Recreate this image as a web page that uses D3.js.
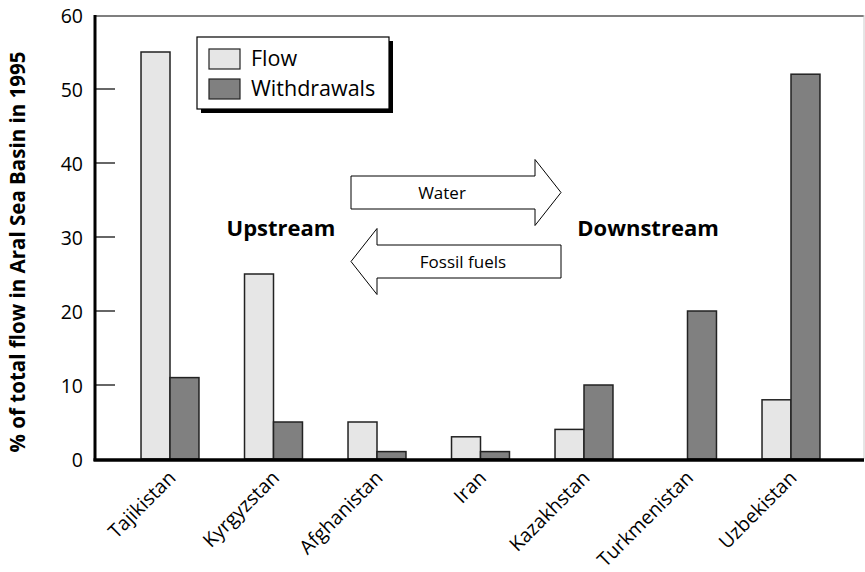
<!DOCTYPE html>
<html><head><meta charset="utf-8">
<script src="https://cdn.jsdelivr.net/npm/d3@7"></script>
<style>body{margin:0;background:#fff}svg{display:block;font-family:"Open Sans",sans-serif}</style>
</head><body><svg id="c" width="865" height="572"></svg>
<script>
const countries = ["Tajikistan","Kyrgyzstan","Afghanistan","Iran","Kazakhstan","Turkmenistan","Uzbekistan"];
const flow = [55,25,5,3,4,0,8];
const withdrawals = [11,5,1,1,10,20,52];
const seriesNames = ["Flow","Withdrawals"];
const seriesColors = ["#e6e6e6","#808080"];
const yTicks = [0,10,20,30,40,50,60];

(function(){
const svg = d3.select("#c");
const mLeft = 95, mRight = 864, mTop = 15, mBottom = 459;

const y = d3.scaleLinear().domain([0,60]).range([mBottom, mTop]);
const x0 = d3.scaleBand().domain(countries).range([118.25, 842.75]).paddingInner(0.44).paddingOuter(0.22);
const x1 = d3.scaleBand().domain(seriesNames).range([0, x0.bandwidth()]);
const color = d3.scaleOrdinal().domain(seriesNames).range(seriesColors);

// frame lines
svg.append("line").attr("x1",mLeft).attr("x2",mRight).attr("y1",mTop+1).attr("y2",mTop+1).attr("stroke","#555").attr("stroke-width",1.5);
svg.append("line").attr("x1",mRight).attr("x2",mRight).attr("y1",mTop).attr("y2",mBottom).attr("stroke","#ccc").attr("stroke-width",1);

// bars
const data = countries.map((c,i)=>({c, vals:[{k:"Flow",v:flow[i]},{k:"Withdrawals",v:withdrawals[i]}]}));
const g = svg.append("g");
data.forEach(d=>{
  d.vals.forEach(s=>{
    if (s.v<=0) return;
    g.append("rect")
      .attr("x", x0(d.c)+x1(s.k))
      .attr("y", y(s.v))
      .attr("width", x1.bandwidth())
      .attr("height", y(0)-y(s.v))
      .attr("fill", color(s.k))
      .attr("stroke","#222").attr("stroke-width",1.5);
  });
});

// y axis
const yAxis = d3.axisLeft(y).tickValues(yTicks).tickSize(0).tickPadding(12);
const ya = svg.append("g").attr("transform",`translate(${mLeft},0)`).call(yAxis);
ya.select(".domain").remove();
ya.selectAll("text").attr("font-size",19.5).attr("font-family","'Open Sans',sans-serif").attr("fill","#000").attr("x",-12).attr("dy","0.36em");
svg.append("g").selectAll("line").data(yTicks.filter(t=>t>0 && t<60)).join("line")
  .attr("x1",mLeft).attr("x2",mLeft+20).attr("y1",d=>y(d)).attr("y2",d=>y(d)).attr("stroke","#000").attr("stroke-width",1.2);
svg.append("line").attr("x1",mLeft).attr("x2",mLeft).attr("y1",mTop).attr("y2",mBottom+2).attr("stroke","#000").attr("stroke-width",3);

// x axis
const xAxis = d3.axisBottom(x0).tickSize(0).tickPadding(0);
const xa = svg.append("g").attr("transform",`translate(0,${mBottom})`).call(xAxis);
xa.select(".domain").remove();
xa.selectAll("text")
  .attr("font-size",19.5).attr("font-family","'Open Sans',sans-serif").attr("fill","#000")
  .attr("text-anchor","end").attr("dy",null).attr("y",0)
  .attr("transform","translate(7,20) rotate(-45)");
svg.append("line").attr("x1",mLeft-1.5).attr("x2",mRight).attr("y1",mBottom+1).attr("y2",mBottom+1).attr("stroke","#000").attr("stroke-width",3.5);

// y title
svg.append("text").attr("transform","translate(25,252) rotate(-90)").attr("text-anchor","middle")
  .attr("font-size",20.5).attr("font-weight","bold").text("% of total flow in Aral Sea Basin in 1995");

// legend
const lg = svg.append("g");
lg.append("rect").attr("x",201).attr("y",41).attr("width",192).attr("height",72).attr("fill","#000");
lg.append("rect").attr("x",197).attr("y",37).attr("width",192).attr("height",72).attr("fill","#fff").attr("stroke","#000").attr("stroke-width",1.2);
seriesNames.forEach((n,i)=>{
  lg.append("rect").attr("x",209).attr("y",49+i*30).attr("width",31).attr("height",20).attr("fill",color(n)).attr("stroke","#222").attr("stroke-width",1.2);
  lg.append("text").attr("x",251).attr("y",66+i*30).attr("font-size",21.5).text(n);
});

// arrows
function arrow(xa0, xa1, yc, dir){
  const bh = 16.5, hh = 33;
  let pts;
  if (dir>0) {
    const hb = xa1-26;
    pts = [[xa0,yc-bh],[hb,yc-bh],[hb,yc-hh],[xa1,yc],[hb,yc+hh],[hb,yc+bh],[xa0,yc+bh]];
  } else {
    const hb = xa0+26;
    pts = [[xa1,yc-bh],[hb,yc-bh],[hb,yc-hh],[xa0,yc],[hb,yc+hh],[hb,yc+bh],[xa1,yc+bh]];
  }
  svg.append("path").attr("d", d3.line()(pts)+"Z").attr("fill","#fff").attr("stroke","#000").attr("stroke-width",1);
}
arrow(351, 561, 192.5, 1);
arrow(351, 561, 261.5, -1);
svg.append("text").attr("x",442).attr("y",199).attr("text-anchor","middle").attr("font-size",17).text("Water");
svg.append("text").attr("x",463).attr("y",268).attr("text-anchor","middle").attr("font-size",17).text("Fossil fuels");

svg.append("text").attr("x",281).attr("y",236).attr("text-anchor","middle").attr("font-size",22).attr("font-weight","bold").text("Upstream");
svg.append("text").attr("x",648).attr("y",236).attr("text-anchor","middle").attr("font-size",22).attr("font-weight","bold").text("Downstream");
})();
</script></body></html>
